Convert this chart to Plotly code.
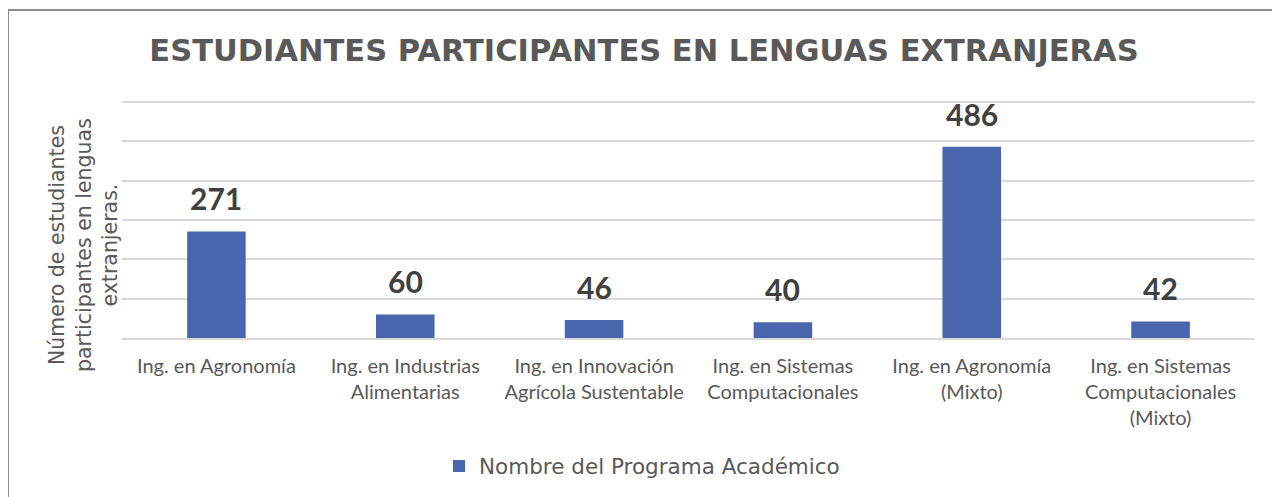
import plotly.graph_objects as go

categories = [
    "Ing. en Agronomía",
    "Ing. en Industrias<br>Alimentarias",
    "Ing. en Innovación<br>Agrícola Sustentable",
    "Ing. en Sistemas<br>Computacionales",
    "Ing. en Agronomía<br>(Mixto)",
    "Ing. en Sistemas<br>Computacionales<br>(Mixto)",
]
values = [271, 60, 46, 40, 486, 42]
grid_values = [0, 100, 200, 300, 400, 500, 600]
series_name = "Nombre del Programa Académico"
title_text = "ESTUDIANTES PARTICIPANTES EN LENGUAS EXTRANJERAS"
y_title = "Número de estudiantes<br>participantes en lenguas<br>extranjeras."

W, H = 1272, 489
YMAX = 610
PH = 236 * YMAX / 600
L, R, B = 114, 25, 159
T = H - B - PH
PW = W - L - R

fig = go.Figure()
fig.add_trace(go.Bar(
    x=categories, y=values, name=series_name,
    marker=dict(color="#4865AE", line=dict(width=0)),
    cliponaxis=False,
))

for c, v in zip(categories, values):
    fig.add_annotation(x=c, y=v, text="<b>%d</b>" % v, showarrow=False,
                       yanchor="bottom", yshift=13,
                       font=dict(family="Lato, Liberation Sans, sans-serif", size=30, color="#404040"))

# y-axis title as rotated annotation
fig.add_annotation(text=y_title, textangle=-90, showarrow=False,
                   xref="paper", yref="paper",
                   x=(84 - 8 - L) / PW, y=(H - B - (245 - 8)) / PH,
                   xanchor="center", yanchor="middle", align="center",
                   font=dict(family="DejaVu Sans, sans-serif", size=20.5, color="#595959"))

fig.update_layout(
    width=W, height=H,
    margin=dict(l=L, r=R, t=T, b=B, autoexpand=False),
    paper_bgcolor="white", plot_bgcolor="white",
    bargap=0.69,
    showlegend=True,
    title=dict(text="<b>" + title_text + "</b>", x=(644 - 8) / W, xanchor="center",
               y=1 - 42 / H, yanchor="middle",
               font=dict(family="DejaVu Sans, sans-serif", size=30.5, color="#595959")),
    legend=dict(orientation="h", x=(642 - 8) / W, xanchor="center", xref="container",
                y=1 - 458 / H, yanchor="middle", yref="container",
                font=dict(family="DejaVu Sans, sans-serif", size=21.5, color="#595959"),
                itemwidth=30),
    font=dict(family="Lato, Liberation Sans, sans-serif", color="#595959"),
)
fig.update_xaxes(tickfont=dict(family="Lato, Liberation Sans, sans-serif", size=20, color="#595959"),
                 showline=True, linecolor="#D9D9D9", linewidth=2, ticks="", showgrid=False,
                 automargin=False, ticklabelstandoff=9)
fig.update_yaxes(range=[0, YMAX], tickvals=grid_values,
                 showticklabels=False, showgrid=True,
                 gridcolor="#D9D9D9", gridwidth=1.5, zeroline=False, automargin=False)

# chart area border (left and top edges visible)
bx = (0 - L) / PW
by = (H - B - 2) / PH
fig.add_shape(type="line", xref="paper", yref="paper", x0=bx, x1=1.2,
              y0=by, y1=by, line=dict(color="#8C8C8C", width=2))
fig.add_shape(type="line", xref="paper", yref="paper", x0=bx, x1=bx,
              y0=by, y1=-1.0, line=dict(color="#8C8C8C", width=2))

fig.write_html("out.html")
